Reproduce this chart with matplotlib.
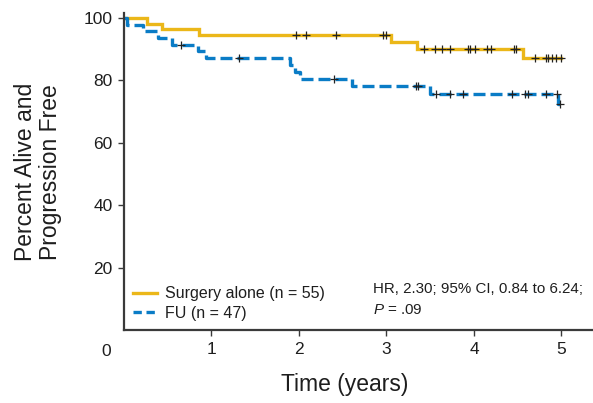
import numpy as np
import matplotlib
matplotlib.use('Agg')
import matplotlib.pyplot as plt
from matplotlib.lines import Line2D

# Kaplan-Meier curves (time in years, percent)
surg_t = [0, 0.26, 0.43, 0.86, 3.05, 3.35, 4.56]
surg_s = [100, 98.2, 96.4, 94.5, 92.4, 90.1, 87.1]
surg_end = 4.99
surg_cens = [1.97, 2.08, 2.42, 2.96, 3.00, 3.43, 3.55, 3.64, 3.73, 3.93, 3.95,
             4.01, 4.15, 4.19, 4.46, 4.48, 4.70, 4.82, 4.85, 4.89, 4.94, 4.99]

fu_t = [0, 0.03, 0.22, 0.39, 0.55, 0.85, 0.94, 1.90, 1.96, 2.01, 2.61, 3.50, 4.96]
fu_s = [100, 97.9, 95.7, 93.6, 91.5, 89.3, 87.1, 85.0, 82.8, 80.5, 78.2, 75.7, 72.4]
fu_end = 4.98
fu_cens = [0.65, 1.31, 2.40, 3.34, 3.36, 3.57, 3.73, 3.87, 4.44, 4.58, 4.62,
           4.82, 4.95, 4.98]

labels = ['Surgery alone (n = 55)', 'FU (n = 47)']
yticks = [20, 40, 60, 80, 100]
xticks = [1, 2, 3, 4, 5]

yellow = '#EBB719'
blue = '#0A7CC6'
txt = '#1e1e1e'
axc = '#3a3a3a'

plt.rcParams['font.family'] = ['Liberation Sans', 'DejaVu Sans']
plt.rcParams['mathtext.fontset'] = 'custom'
plt.rcParams['mathtext.it'] = 'Liberation Sans:italic'
plt.rcParams['mathtext.rm'] = 'Liberation Sans'


def surv_at(t, s, x):
    i = np.searchsorted(t, x, side='right') - 1
    return np.array(s)[i]


fig = plt.figure(figsize=(5.93, 4.03), dpi=100)
ax = fig.add_axes([0.2091, 0.18, 0.7909, 0.787])

ax.step(surg_t + [surg_end], surg_s + [surg_s[-1]], where='post',
        color=yellow, lw=2.4, solid_joinstyle='miter')
ax.step(fu_t + [fu_end], fu_s + [fu_s[-1]], where='post',
        color=blue, lw=2.4, dashes=(3.6, 1.5))

ax.plot(surg_cens, surv_at(surg_t, surg_s, surg_cens), ls='none', marker='+',
        color='#222222', ms=5.5, mew=0.9)
ax.plot(fu_cens, surv_at(fu_t, fu_s, fu_cens), ls='none', marker='+',
        color='#222222', ms=5.5, mew=0.9)

ax.set_xlim(0, 5.36)
ax.set_ylim(0, 101.5)
ax.set_xticks(xticks)
ax.set_yticks(yticks)
ax.tick_params(direction='out', length=4.3, width=1.0, color=axc,
               labelsize=12.5, labelcolor=txt, pad=4)
for sp in ['top', 'right']:
    ax.spines[sp].set_visible(False)
for sp in ['left', 'bottom']:
    ax.spines[sp].set_linewidth(1.6)
    ax.spines[sp].set_color(axc)

ax.annotate('0', xy=(0, 0), xytext=(-13, -15.5), textcoords='offset points',
            ha='center', va='center', fontsize=12.5, color=txt,
            annotation_clip=False)

handles = [Line2D([], [], color=yellow, lw=2.4),
           Line2D([], [], color=blue, lw=2.4, dashes=(2.5, 1.4))]
ax.legend(handles, labels, loc='lower left', bbox_to_anchor=(0.019, 0.03),
          frameon=False, fontsize=11.5, handlelength=1.5, handletextpad=0.5,
          labelspacing=0.3, borderaxespad=0, borderpad=0, labelcolor=txt)

ax.text(0.531, 0.131, 'HR, 2.30; 95% CI, 0.84 to 6.24;', transform=ax.transAxes,
        ha='left', va='center', fontsize=10.9, color=txt)
ax.text(0.531, 0.063, r'$P$ = .09', transform=ax.transAxes,
        ha='left', va='center', fontsize=10.9, color=txt)

fig.text(345 / 593, 1 - 385 / 403, 'Time (years)', ha='center', va='center',
         fontsize=16.5, color=txt)
fig.text(38 / 593, 1 - 172 / 403, 'Percent Alive and\nProgression Free',
         rotation=90, ha='center', va='center', fontsize=16.5, color=txt,
         linespacing=1.08)

fig.savefig('out.png', dpi=100)
